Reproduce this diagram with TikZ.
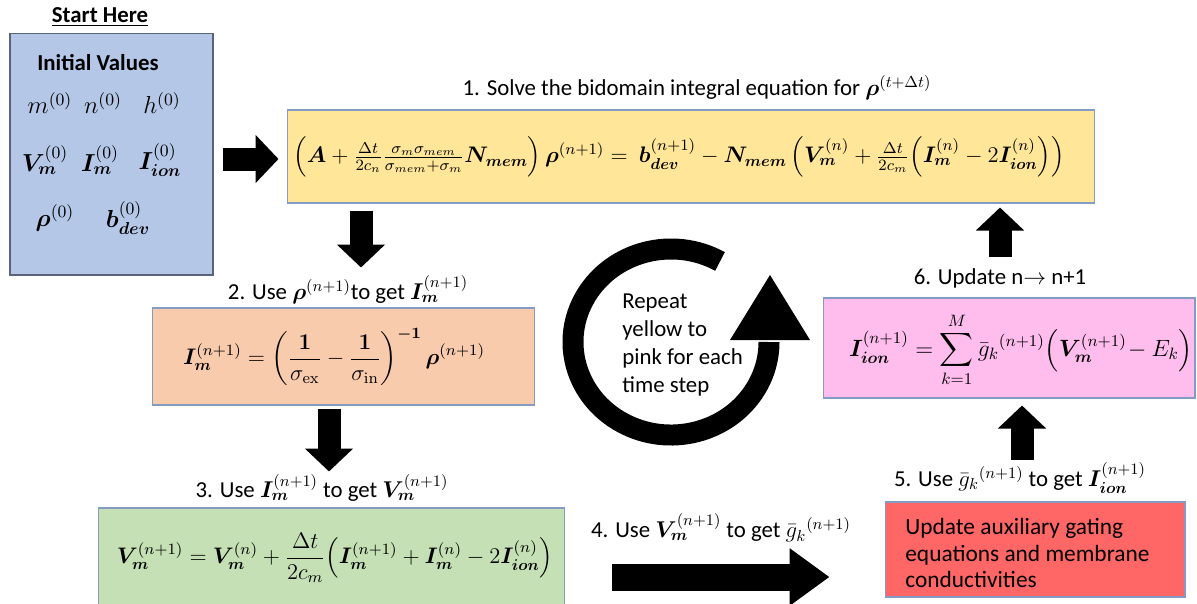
\RequirePackage{fix-cm}
\documentclass[tikz,border=0pt]{standalone}
\usepackage{amsmath,amssymb,bm}
\usepackage[no-math]{fontspec}
\setmainfont{Carlito}
\usetikzlibrary{arrows.meta,positioning}

\definecolor{initblue}{RGB}{180,199,231}
\definecolor{solveyellow}{RGB}{255,230,153}
\definecolor{curorange}{RGB}{248,203,173}
\definecolor{volgreen}{RGB}{197,224,180}
\definecolor{gatered}{RGB}{255,102,102}
\definecolor{ionpink}{RGB}{255,189,238}
\definecolor{boxline}{RGB}{132,155,195}
\definecolor{initline}{RGB}{90,100,120}

\newcommand{\bV}{\bm{V}_{\bm{m}}}
\newcommand{\bI}{\bm{I}_{\bm{m}}}
\newcommand{\bIion}{\bm{I}_{\bm{ion}}}
\newcommand{\gbar}{\bar{g}_k{}}

\begin{document}
\begin{tikzpicture}[x=0.02cm,y=-0.02cm]
\tikzset{
  stepbox/.style={draw=boxline,line width=0.6pt,inner sep=0pt},
  steplabel/.style={inner sep=0pt,font=\fontsize{13}{15}\selectfont},
  eqtext/.style={inner sep=0pt,font=\fontsize{12.8}{15}\selectfont},
  initval/.style={inner sep=0pt,font=\fontsize{14}{16}\selectfont},
  blockarrow/.style={line width=0.46cm,-{Triangle[length=0.46cm,width=0.94cm]}},
  widearrow/.style={line width=0.54cm,-{Triangle[length=0.8cm,width=1.1cm]}}
}
\clip (0,0) rectangle (1197,603);
% boxes
\node[stepbox,draw=initline,fill=initblue,minimum width=4.06cm,minimum height=4.84cm] (n_init) at (111.5,154) {};
\node[stepbox,fill=solveyellow,minimum width=16.16cm,minimum height=1.86cm] (n_solve) at (691,156.5) {};
\node[stepbox,fill=curorange,minimum width=7.66cm,minimum height=1.94cm] (n_cur) at (343.5,356.5) {};
\node[stepbox,fill=volgreen,minimum width=9.34cm,minimum height=2.0cm] (n_vol) at (331.5,558) {};
\node[stepbox,fill=gatered,minimum width=6.0cm,minimum height=1.9cm] (n_gate) at (1035,549.5) {};
\node[stepbox,fill=ionpink,minimum width=7.44cm,minimum height=2.0cm] (n_ion) at (1009,348) {};
% initial values
\node[steplabel] (n_start) at (100,17) {\textbf{\underline{Start Here}}};
\node[steplabel] (n_initttl) at (98,63) {\textbf{Initial Values}};
\node[initval] (n_m0) at (50,103) {$m^{(0)}$};
\node[initval] (n_n0) at (103,103) {$n^{(0)}$};
\node[initval] (n_h0) at (162,103) {$h^{(0)}$};
\node[initval] (n_v0) at (45,160) {$\bV^{(0)}$};
\node[initval] (n_i0) at (100,160) {$\bI^{(0)}$};
\node[initval] (n_iion0) at (160,160) {$\bIion^{(0)}$};
\node[initval] (n_rho0) at (55,218) {$\bm{\rho}^{(0)}$};
\node[initval] (n_b0) at (128,218) {$\bm{b}_{\bm{dev}}^{(0)}$};
% step labels
\node[steplabel] (n_lbl1) at (697,88) {1. Solve the bidomain integral equation for $\bm{\rho}^{(t+\Delta t)}$};
\node[steplabel] (n_lbl2) at (348,290) {2. Use $\bm{\rho}^{(n+1)}$to get $\bI^{(n+1)}$};
\node[steplabel] (n_lbl3) at (322,488) {3. Use $\bI^{(n+1)}$ to get $\bV^{(n+1)}$};
\node[steplabel] (n_lbl4) at (721,528) {4. Use $\bV^{(n+1)}$ to get $\gbar^{(n+1)}$};
\node[steplabel] (n_lbl5) at (1020,478) {5. Use $\gbar^{(n+1)}$ to get $\bIion^{(n+1)}$};
\node[steplabel] (n_lbl6) at (1000,278) {6. Update n$\rightarrow$ n+1};
% equations
\node[eqtext] (n_solve_eq) at (679,157) {$\left(\bm{A}+\tfrac{\Delta t}{2c_n}\tfrac{\sigma_m\sigma_{mem}}{\sigma_{mem}+\sigma_m}\bm{N}_{\bm{mem}}\right)\bm{\rho}^{(n+1)} =\ \bm{b}_{\bm{dev}}^{(n+1)}-\bm{N}_{\bm{mem}}\left(\bV^{(n)}+\tfrac{\Delta t}{2c_m}\Bigl(\bI^{(n)}-2\bIion^{(n)}\Bigr)\right)$};
\node[eqtext] (n_cur_eq) at (334,357) {$\displaystyle \bI^{(n+1)}=\left(\frac{\bm{1}}{\sigma_{\mathrm{ex}}}-\frac{\bm{1}}{\sigma_{\mathrm{in}}}\right)^{\bm{-1}}\bm{\rho}^{(n+1)}$};
\node[eqtext] (n_vol_eq) at (335,558) {$\displaystyle \bV^{(n+1)}=\bV^{(n)}+\frac{\Delta t}{2c_m}\Bigl(\bI^{(n+1)}+\bI^{(n)}-2\bIion^{(n)}\Bigr)$};
\node[eqtext,font=\fontsize{13.4}{15}\selectfont] (n_ion_eq) at (1021,350) {$\displaystyle \bIion^{(n+1)}=\sum_{k=1}^{M}\gbar^{(n+1)}\Bigl(\bV^{(n+1)}\!-E_k\Bigr)$};
\node[steplabel,font=\fontsize{13.3}{15.3}\selectfont,align=left,anchor=west] (n_gate_txt) at (905,553) {Update auxiliary gating\\equations and membrane\\conductivities};
% loop
\draw[line width=0.42cm] (671,342) ++(-60:98 and 93) arc[start angle=-60,end angle=-360,x radius=98,y radius=93];
\fill (730,340) -- (770,275) -- (810,340) -- cycle;
\node[steplabel,font=\fontsize{13}{15.9}\selectfont,align=left,anchor=west] (n_loop) at (622,345) {Repeat\\yellow to\\pink for each\\time step};
% arrows
\draw[blockarrow] ([xshift=0.18cm,yshift=-0.1cm]n_init.east) -- ++(56,0);
\coordinate (c_down1) at (361,0);
\coordinate (c_down2) at (329,0);
\coordinate (c_up5) at (1022,0);
\coordinate (c_up6) at (1000,0);
\coordinate (c_right4) at (0,577);
\draw[blockarrow] ([yshift=-0.14cm]n_solve.south -| c_down1) -- ([yshift=0.8cm]n_cur.north -| c_down1);
\draw[blockarrow] ([yshift=-0.06cm]n_cur.south -| c_down2) -- ([yshift=0.72cm]n_vol.north -| c_down2);
\draw[blockarrow] ([yshift=0.84cm]n_gate.north -| c_up5) -- ([yshift=-0.14cm]n_ion.south -| c_up5);
\draw[blockarrow] ([yshift=0.82cm]n_ion.north -| c_up6) -- ([yshift=-0.08cm]n_solve.south -| c_up6);
\draw[widearrow] ([xshift=0.94cm]n_vol.east |- c_right4) -- ([xshift=-1.1cm]n_gate.west |- c_right4);
\end{tikzpicture}
\end{document}
